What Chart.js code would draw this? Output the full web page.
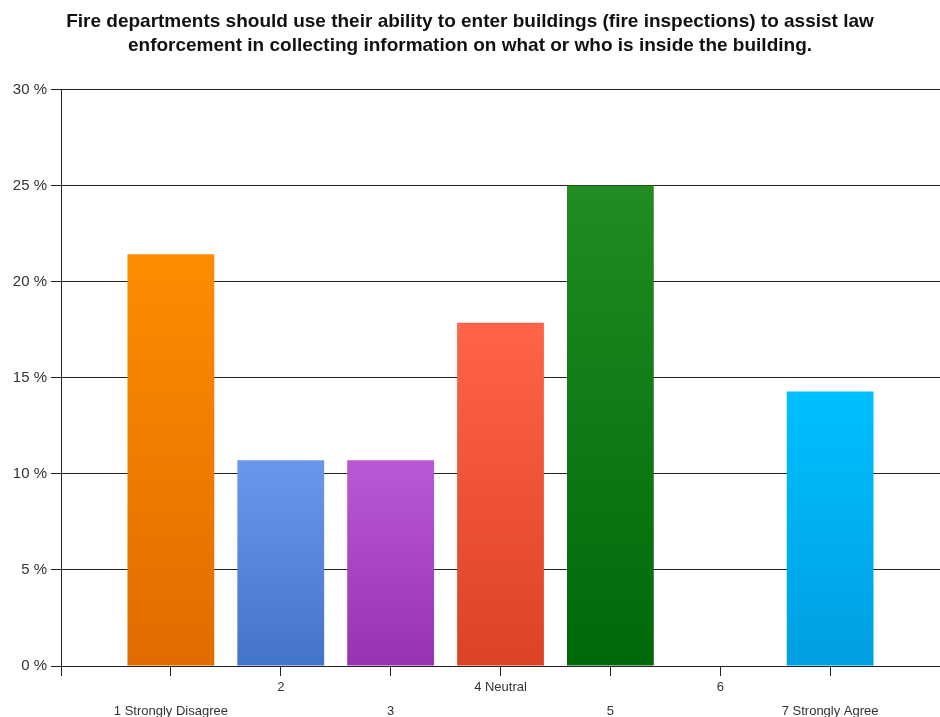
<!DOCTYPE html>
<html>
<head>
<meta charset="utf-8">
<script src="https://cdn.jsdelivr.net/npm/chart.js@4/dist/chart.umd.min.js"></script>
<style>
  html, body { margin: 0; padding: 0; background: #fff; }
  #wrap { width: 940px; height: 717px; }
</style>
</head>
<body>
<div id="wrap"><canvas id="chart"></canvas></div>
<script>
// answers on a 1-7 scale, share of respondents in %
const categories = ['1 Strongly Disagree', '2', '3', '4 Neutral', '5', '6', '7 Strongly Agree'];
const shares = [21.43, 10.71, 10.71, 17.86, 25.0, 0, 14.29];
const yTicks = [0, 5, 10, 15, 20, 25, 30];

// top / bottom colour of each bar's gradient
const topColors = ['#ff8c00', '#6b97ee', '#bb58d6', '#ff6348', '#228b22', '#00bfff', '#00c0ff'];
const bottomColors = ['#e06c00', '#4473cc', '#9733b2', '#dc4225', '#00680a', '#0098da', '#009fe0'];

// one empty slot before and after so the bars sit a full step in from the edges
const labels = [''].concat(categories, ['']);
const values = [null].concat(shares, [null]);

function barGradient(ctx) {
  const chart = ctx.chart;
  const i = ctx.dataIndex - 1;
  if (!chart.chartArea || i < 0 || i >= categories.length) return '#000';
  const y = chart.scales.y;
  const top = y.getPixelForValue(values[ctx.dataIndex] || 0);
  const bottom = y.getPixelForValue(0);
  const g = chart.ctx.createLinearGradient(0, top, 0, bottom);
  g.addColorStop(0, topColors[i]);
  g.addColorStop(1, bottomColors[i]);
  return g;
}

const font = 'Liberation Sans, Arial, sans-serif';

new Chart(document.getElementById('chart'), {
  type: 'bar',
  data: {
    labels: labels,
    datasets: [{
      data: values,
      backgroundColor: barGradient,
      borderWidth: 0,
      barPercentage: 0.79,
      categoryPercentage: 1
    }]
  },
  options: {
    responsive: true,
    maintainAspectRatio: false,
    animation: false,
    layout: { padding: 0 },
    plugins: {
      legend: { display: false },
      tooltip: { enabled: false },
      title: {
        display: true,
        text: ['Fire departments should use their ability to enter buildings (fire inspections) to assist law',
               'enforcement in collecting information on what or who is inside the building.'],
        color: '#111',
        font: { family: font, size: 19, weight: 'bold', lineHeight: 1.25 },
        padding: { top: 10, bottom: 32 }
      }
    },
    scales: {
      x: {
        offset: false,
        grid: { display: true, offset: false, drawOnChartArea: false, drawTicks: true, tickLength: 10, color: '#222' },
        border: { color: '#222', width: 1 },
        ticks: {
          autoSkip: false,
          maxRotation: 0,
          color: '#333',
          padding: 0,
          font: { family: font, size: 13, lineHeight: 1.8 },
          // even answers on the upper row, odd ones on the lower row
          callback: function (v, i) {
            const t = labels[i];
            if (!t) return '';
            return (i % 2 === 0) ? t : ['', t];
          }
        },
        afterFit: function (s) { s.height = 51; }
      },
      y: {
        min: 0,
        max: 30,
        afterBuildTicks: function (s) { s.ticks = yTicks.map(v => ({ value: v })); },
        grid: { color: '#222', lineWidth: 1, tickLength: 10 },
        border: { color: '#222', width: 1 },
        ticks: {
          color: '#333',
          padding: 4,
          font: { family: font, size: 15 },
          callback: v => v + ' %'
        },
        afterFit: function (s) { s.width = 61; }
      }
    }
  }
});
</script>
</body>
</html>
